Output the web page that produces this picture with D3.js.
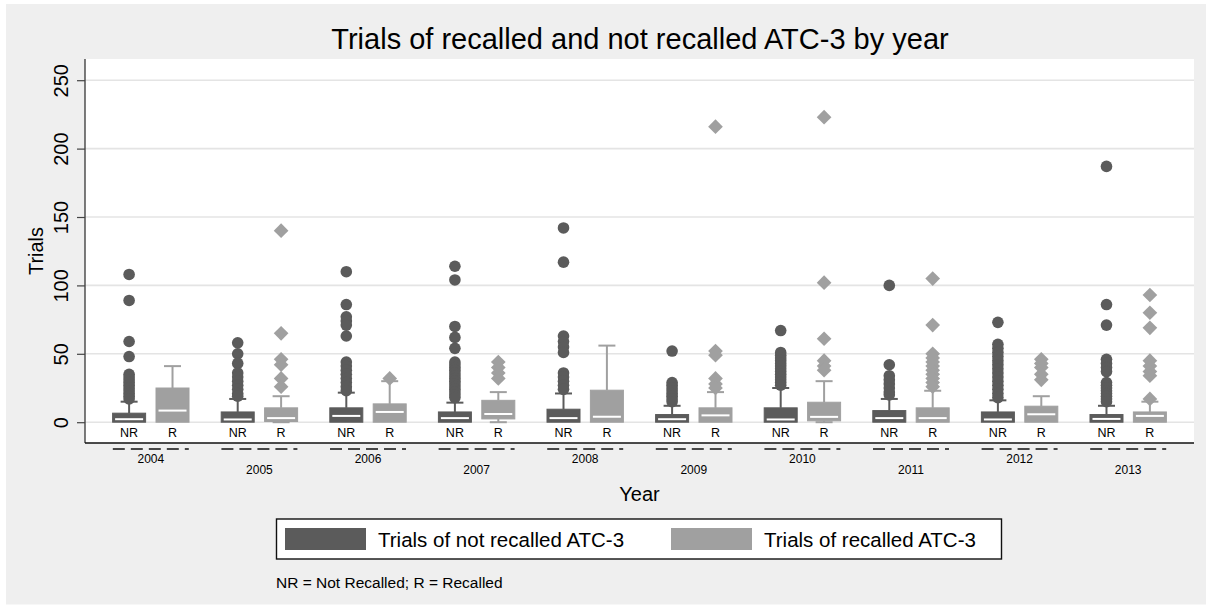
<!DOCTYPE html>
<html>
<head>
<meta charset="utf-8">
<script src="https://cdn.jsdelivr.net/npm/d3@7"></script>
<style>
  html, body { margin: 0; padding: 0; background: #ffffff; }
  svg { display: block; font-family: "Liberation Sans", Arial, Helvetica, sans-serif; }
</style>
</head>
<body>
<svg id="chart" width="1206" height="605"></svg>
<script>
// ---------------- data ----------------
const years = ["2004","2005","2006","2007","2008","2009","2010","2011","2012","2013"];
const groups = ["NR", "R"];
const yTicks = [0, 50, 100, 150, 200, 250];

// Not recalled (NR)
const nrQ1  = [0, 0, 0, 0, 0, 0, 0, 0, 0, 0];
const nrMed = [2.2, 2, 4.6, 3, 3, 2.2, 2, 3, 2, 2.4];
const nrQ3  = [6.6, 7.5, 10.5, 7.5, 9.5, 5.6, 10.5, 8.5, 7.5, 5.6];
const nrLo  = [0, 0, 0, 0, 0, 0, 0, 0, 0, 0];
const nrHi  = [15, 17, 21.6, 14.3, 21, 12, 25, 17, 16, 12];
const nrOut = [
  [108, 89, 59, 48, 35, 33, 31, 29, 27, 25, 23, 21, 19, 17],
  [58, 50, 43, 36, 33, 30, 27, 24, 21, 19],
  [110, 86, 77, 74, 71, 63, 44, 41, 38, 35, 32, 29, 26, 23],
  [114, 104, 70, 62, 54, 44, 42, 40, 38, 36, 34, 32, 30, 28, 26, 24, 22, 20, 18],
  [142, 117, 63, 59, 55, 51, 36, 33, 30, 27, 24],
  [52, 29, 27, 25, 23, 21, 19, 17, 15],
  [67, 51, 49, 47, 45, 43, 41, 39, 37, 35, 33, 31, 29, 27],
  [100, 42, 34, 31, 28, 25, 22, 20],
  [73, 57, 54, 51, 48, 45, 42, 39, 36, 33, 30, 27, 24, 21, 18],
  [187, 86, 71, 46, 43, 40, 37, 29, 27, 25, 23, 21, 19, 17, 15]
];

// Recalled (R)
const rQ1  = [0, 0.5, 0, 2.4, 0, 0, 1, 0, 0, 0];
const rMed = [8.5, 3, 7.5, 6, 4, 5, 3.9, 3, 5.8, 4.6];
const rQ3  = [25, 10.5, 13.4, 16, 23.4, 10.5, 14.6, 10.5, 11.7, 7.5];
const rLo  = [0, 0, 0, 0, 0, 0, 0, 0, 0, 0];
const rHi  = [41, 19, 30, 22, 56, 22, 30, 23, 19, 15];
const rOut = [
  [],
  [140, 65, 46, 42, 32, 26],
  [32],
  [44, 40, 36, 32],
  [],
  [216, 52, 49, 32, 28, 25],
  [223, 102, 61, 45, 41, 38],
  [105, 71, 50, 47, 44, 41, 38, 35, 32, 29, 26],
  [46, 43, 40, 35, 31],
  [93, 80, 69, 45, 41, 37, 34, 17]
];

const seriesNames = ["Trials of not recalled ATC-3", "Trials of recalled ATC-3"];
const titleText = "Trials of recalled and not recalled ATC-3 by year";
const yTitle = "Trials";
const xTitle = "Year";
const noteText = "NR = Not Recalled; R = Recalled";

// ---------------- build ----------------
const colors = { NR: "#5b5b5b", R: "#a0a0a0" };
const stats = {
  NR: years.map((yr, i) => ({ year: yr, q1: nrQ1[i], med: nrMed[i], q3: nrQ3[i], lo: nrLo[i], hi: nrHi[i], out: nrOut[i] })),
  R:  years.map((yr, i) => ({ year: yr, q1: rQ1[i],  med: rMed[i],  q3: rQ3[i],  lo: rLo[i],  hi: rHi[i],  out: rOut[i] }))
};

const svg = d3.select("#chart");
const W = 1206, H = 605;
const plot = { left: 85, right: 1194, top: 59, bottom: 443 };

// background
svg.append("rect").attr("x", 6).attr("y", 4).attr("width", W - 6).attr("height", H - 4.5).attr("fill", "#efefef");
svg.append("rect").attr("x", plot.left).attr("y", plot.top)
  .attr("width", plot.right - plot.left).attr("height", plot.bottom - plot.top).attr("fill", "#ffffff");

const y = d3.scaleLinear().domain([-15.2, 265.5]).range([plot.bottom, plot.top]);
const x = d3.scaleBand().domain(years).range([plot.left, plot.right]).paddingInner(0).paddingOuter(0.106);
const sub = d3.scalePoint().domain(groups).range([-21.7, 21.7]);
const cx = (yr) => x(yr) + x.bandwidth() / 2;
const boxW = 33, capW = 17;

// gridlines
svg.append("g").selectAll("line").data(yTicks).join("line")
  .attr("x1", plot.left).attr("x2", plot.right)
  .attr("y1", d => y(d)).attr("y2", d => y(d))
  .attr("stroke", "#e4e4e4").attr("stroke-width", 1.6);

// y axis
const yAxis = svg.append("g").attr("transform", `translate(${plot.left},0)`)
  .call(d3.axisLeft(y).tickValues(yTicks).tickSize(8).tickFormat(d3.format("d")));
yAxis.select(".domain").attr("d", `M0,${plot.top}V${plot.bottom}`).attr("stroke", "#444").attr("stroke-width", 1.4);
yAxis.selectAll(".tick line").attr("stroke", "#444").attr("stroke-width", 1.2);
yAxis.selectAll(".tick text")
  .attr("x", null).attr("dy", null)
  .attr("transform", "translate(-17,0) rotate(-90)")
  .attr("text-anchor", "middle")
  .attr("font-size", 20).attr("fill", "#000");

// y title
svg.append("text").attr("transform", `translate(43,${(plot.top + plot.bottom) / 2}) rotate(-90)`)
  .attr("text-anchor", "middle").attr("font-size", 20).attr("fill", "#000").text(yTitle);

// boxes
groups.forEach(g => {
  const col = colors[g];
  const gg = svg.append("g").attr("class", "series-" + g);
  const data = stats[g];
  const px = d => cx(d.year) + sub(g);

  // whiskers
  gg.selectAll("line.wh").data(data).join("line").attr("class", "wh")
    .attr("x1", px).attr("x2", px).attr("y1", d => y(d.q3)).attr("y2", d => y(d.hi))
    .attr("stroke", col).attr("stroke-width", 2);
  gg.selectAll("line.cap").data(data).join("line").attr("class", "cap")
    .attr("x1", d => px(d) - capW / 2).attr("x2", d => px(d) + capW / 2)
    .attr("y1", d => y(d.hi)).attr("y2", d => y(d.hi))
    .attr("stroke", col).attr("stroke-width", 2);
  gg.selectAll("line.whl").data(data.filter(d => d.q1 > d.lo)).join("line").attr("class", "whl")
    .attr("x1", px).attr("x2", px).attr("y1", d => y(d.q1)).attr("y2", d => y(d.lo))
    .attr("stroke", col).attr("stroke-width", 2);
  gg.selectAll("line.capl").data(data.filter(d => d.q1 > d.lo)).join("line").attr("class", "capl")
    .attr("x1", d => px(d) - capW / 2).attr("x2", d => px(d) + capW / 2)
    .attr("y1", d => y(d.lo)).attr("y2", d => y(d.lo))
    .attr("stroke", col).attr("stroke-width", 2);

  // box
  gg.selectAll("rect.box").data(data).join("rect").attr("class", "box")
    .attr("x", d => px(d) - boxW / 2).attr("width", boxW)
    .attr("y", d => y(d.q3)).attr("height", d => y(d.q1) - y(d.q3))
    .attr("fill", col).attr("stroke", col).attr("stroke-width", 1);

  // median
  gg.selectAll("line.med").data(data).join("line").attr("class", "med")
    .attr("x1", d => px(d) - boxW / 2 + 2.5).attr("x2", d => px(d) + boxW / 2 - 2.5)
    .attr("y1", d => y(d.med)).attr("y2", d => y(d.med))
    .attr("stroke", "#ffffff").attr("stroke-width", 2);

  // outliers
  const outs = data.flatMap(d => d.out.map(v => ({ year: d.year, v })));
  if (g === "NR") {
    gg.selectAll("circle.out").data(outs).join("circle").attr("class", "out")
      .attr("cx", px).attr("cy", d => y(d.v)).attr("r", 5.8).attr("fill", col);
  } else {
    const sym = d3.symbol().type(d3.symbolSquare).size(108);
    gg.selectAll("path.out").data(outs).join("path").attr("class", "out")
      .attr("d", sym)
      .attr("transform", d => `translate(${px(d)},${y(d.v)}) rotate(45)`)
      .attr("fill", col);
  }

  // NR / R labels
  gg.selectAll("text.lab").data(years).join("text").attr("class", "lab")
    .attr("x", d => cx(d) + sub(g)).attr("y", 436.5)
    .attr("text-anchor", "middle").attr("font-size", 12.5).attr("fill", "#000").text(g);
});

// bottom axis line
svg.append("line").attr("x1", plot.left).attr("x2", plot.right)
  .attr("y1", plot.bottom).attr("y2", plot.bottom).attr("stroke", "#111").attr("stroke-width", 1.4);

// dashed group markers
svg.append("g").selectAll("line").data(years).join("line")
  .attr("x1", d => cx(d) - 38).attr("x2", d => cx(d) + 38)
  .attr("y1", 449).attr("y2", 449)
  .attr("stroke", "#111").attr("stroke-width", 1.3).attr("stroke-dasharray", "12,6");

// year labels (staggered)
svg.append("g").selectAll("text").data(years).join("text")
  .attr("x", d => cx(d)).attr("y", (d, i) => i % 2 === 0 ? 462.5 : 473.5)
  .attr("text-anchor", "middle").attr("font-size", 12).attr("fill", "#000").text(d => d);

// x title
svg.append("text").attr("x", (plot.left + plot.right) / 2).attr("y", 501)
  .attr("text-anchor", "middle").attr("font-size", 20).attr("fill", "#000").text(xTitle);

// title
svg.append("text").attr("x", 640).attr("y", 49.3)
  .attr("text-anchor", "middle").attr("font-size", 29).attr("fill", "#000").text(titleText);

// legend
const leg = svg.append("g");
leg.append("rect").attr("x", 276.5).attr("y", 519).attr("width", 725).attr("height", 40)
  .attr("fill", "#ffffff").attr("stroke", "#111").attr("stroke-width", 1.4);
const legX = [285, 671];
groups.forEach((g, i) => {
  leg.append("rect").attr("x", legX[i]).attr("y", 528).attr("width", 81).attr("height", 22).attr("fill", colors[g]);
  leg.append("text").attr("x", legX[i] + 93).attr("y", 546.5).attr("font-size", 20.5).attr("fill", "#000").text(seriesNames[i]);
});

// note
svg.append("text").attr("x", 276).attr("y", 587.5).attr("font-size", 15.5).attr("fill", "#000").text(noteText);
</script>
</body>
</html>
